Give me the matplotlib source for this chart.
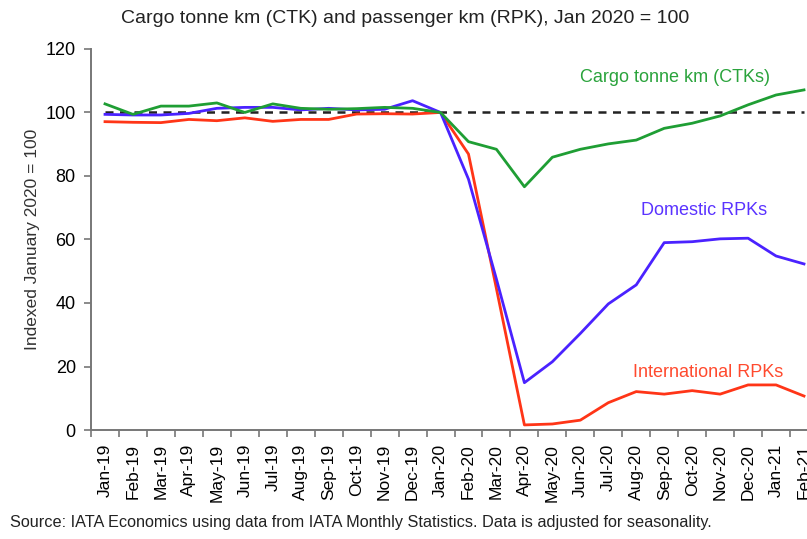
import matplotlib
matplotlib.use("Agg")
import matplotlib.pyplot as plt
import numpy as np

plt.rcParams["font.family"] = ["Liberation Sans", "DejaVu Sans"]

months = ["Jan-19", "Feb-19", "Mar-19", "Apr-19", "May-19", "Jun-19", "Jul-19",
          "Aug-19", "Sep-19", "Oct-19", "Nov-19", "Dec-19", "Jan-20", "Feb-20",
          "Mar-20", "Apr-20", "May-20", "Jun-20", "Jul-20", "Aug-20", "Sep-20",
          "Oct-20", "Nov-20", "Dec-20", "Jan-21", "Feb-21"]

ctk = [102.7, 99.4, 102.0, 102.0, 103.0, 100.0, 102.7, 101.3, 101.0, 101.2,
       101.6, 101.3, 100.0, 90.8, 88.4, 76.6, 85.9, 88.4, 90.1, 91.3, 95.0,
       96.6, 98.9, 102.4, 105.5, 107.1]
domestic = [99.4, 99.2, 99.2, 99.7, 101.3, 101.6, 101.6, 100.8, 101.3, 100.8,
            101.0, 103.7, 100.0, 79.0, 47.5, 14.9, 21.5, 30.4, 39.7, 45.7, 59.0,
            59.3, 60.2, 60.4, 54.8, 52.3]
international = [97.1, 96.9, 96.8, 97.8, 97.4, 98.3, 97.2, 97.8, 97.8, 99.5,
                 99.6, 99.5, 100.0, 86.9, 44.5, 1.6, 1.9, 3.1, 8.6, 12.1, 11.3,
                 12.4, 11.3, 14.2, 14.2, 10.7]
baseline = 100

green = "#1f9e34"
blue = "#4a22ff"
red = "#ff3517"

fig = plt.figure(figsize=(8.07, 5.39), dpi=100)
ax = fig.add_axes((0.1128, 0.2022, 0.9008, 0.707))

x = np.arange(len(months))
ax.plot(x, [baseline] * len(x), color="#222222", lw=1.8, ls=(0, (3.2, 2.6)), zorder=1)
ax.plot(x, international, color=red, lw=2.0, zorder=2)
ax.plot(x, domestic, color=blue, lw=2.0, zorder=3)
ax.plot(x, ctk, color=green, lw=2.0, zorder=4)

ax.set_xlim(-0.5, len(months) - 0.5)
ax.set_ylim(0, 120)
ax.set_yticks(np.arange(0, 121, 20))
ax.set_xticks(x)
ax.set_xticklabels(months, rotation=90, fontsize=12.5)
ax.set_xticks(np.arange(-0.5, len(months), 1), minor=True)
ax.tick_params(axis="x", which="major", length=0, pad=10)
ax.tick_params(axis="x", which="minor", length=5, color="#777777", width=1.2)
ax.tick_params(axis="y", length=5, color="#777777", width=1.2, labelsize=13, pad=6)

for side in ["top", "right"]:
    ax.spines[side].set_visible(False)
for side in ["left", "bottom"]:
    ax.spines[side].set_color("#777777")
    ax.spines[side].set_linewidth(1.4)

ax.set_ylabel("Indexed January 2020 = 100", fontsize=12.5, color="#333333", labelpad=4)

ax.text(17.0, 110.9, "Cargo tonne km (CTKs)", color="#2aa33c", fontsize=13, va="center")
ax.text(19.18, 69.0, "Domestic RPKs", color="#5a33ff", fontsize=13, va="center")
ax.text(18.9, 18.0, "International RPKs", color="#ff4a2e", fontsize=13, va="center")

fig.text(0.502, 0.966, "Cargo tonne km (CTK) and passenger km (RPK), Jan 2020 = 100",
         ha="center", va="center", fontsize=14, color="#222222")
fig.text(0.012, 0.031, "Source: IATA Economics using data from IATA Monthly Statistics. "
         "Data is adjusted for seasonality.", ha="left", va="center", fontsize=11.7,
         color="#222222")

fig.savefig("out.png", dpi=100, facecolor="white")
